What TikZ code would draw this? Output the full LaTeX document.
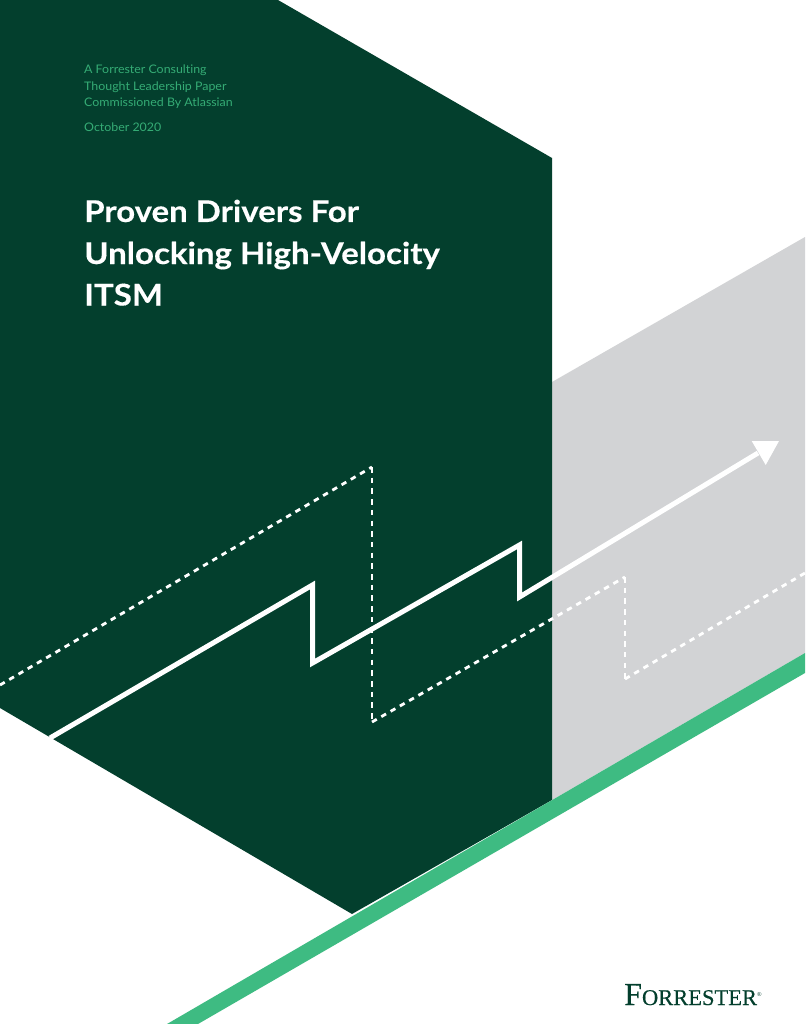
\documentclass[tikz,border=0pt]{standalone}
\usepackage{fontspec}
\setmainfont{Lato}
\newfontfamily\logofont[FakeBold=0.4]{Liberation Serif}
\newfontfamily\logomark{Liberation Serif}
\newfontfamily\titlefont[FakeStretch=1.1,BoldFeatures={FakeBold=0.35}]{Lato}
\newfontfamily\smallfont[FakeStretch=1.05,Ligatures=NoCommon]{Lato}
\definecolor{darkgreen}{HTML}{033F2D}
\definecolor{brightgreen}{HTML}{3EBB82}
\definecolor{smalltext}{HTML}{35AC75}
\definecolor{panelgray}{HTML}{D2D3D5}
\begin{document}
\begin{tikzpicture}[x=1pt,y=-1pt,
  solidline/.style={draw=white,line width=5pt,miter limit=10},
  dashline/.style={draw=white,line width=2.8pt,dash pattern=on 5.5pt off 5.2pt},
  smalllabel/.style={anchor=base west,inner sep=0pt,text=smalltext,font=\smallfont\fontsize{11.8pt}{13pt}\selectfont},
  titlelabel/.style={anchor=base west,inner sep=0pt,text=white,font=\titlefont\bfseries\fontsize{30pt}{36pt}\selectfont}]
\useasboundingbox (0,0) rectangle (805,1024);
\fill[white] (0,0) rectangle (805,1024);
\fill[panelgray] (552,382) -- (805,237) -- (805,653) -- (552,800) -- cycle;
\fill[darkgreen] (0,0) -- (278,0) -- (552,158) -- (552,800) -- (352,914) -- (0,708) -- cycle;
\fill[brightgreen] (805,653) -- (805,673) -- (198,1024) -- (167,1024) -- cycle;
\draw[dashline] (0,685) -- (372,467);
\draw[dashline] (372,467) -- (372,722);
\draw[dashline] (372,722) -- (625,577);
\draw[dashline] (625,577) -- (625,679);
\draw[dashline] (625,679) -- (805,573);
\draw[solidline] (50,738) -- (312.5,585) -- (312.5,663) -- (519.5,545) -- (519.5,597) -- (758,453);
\fill[white] (751.7,441) -- (779,441) -- (765.7,465) -- cycle;
\node[smalllabel] (l1) at (84,74) {A Forrester Consulting};
\node[smalllabel] (l2) at (84,91) {Thought Leadership Paper};
\node[smalllabel] (l3) at (84,107) {Commissioned By Atlassian};
\node[smalllabel] (l4) at (84,132) {October 2020};
\node[titlelabel] (t1) at (84,222) {Proven Drivers For};
\node[titlelabel] (t2) at (84,264) {Unlocking High-Velocity};
\node[titlelabel] (t3) at (84,305.5) {ITSM};
\node[anchor=base west,inner sep=0pt,text=darkgreen,font=\logofont] (logo) at (624,1005) {\fontsize{32pt}{32pt}\selectfont F\fontsize{22.5pt}{22pt}\selectfont ORRESTER\raisebox{9pt}{\logomark\fontsize{6pt}{6pt}\selectfont®}};
\end{tikzpicture}
\end{document}
